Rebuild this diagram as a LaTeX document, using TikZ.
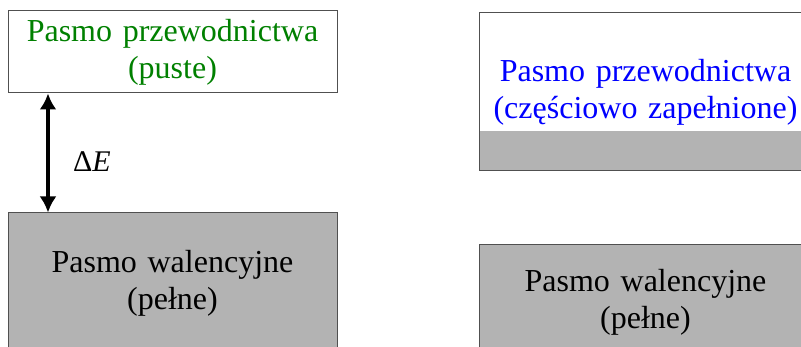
\documentclass[tikz,border=0pt]{standalone}
\usepackage{fontspec}
\setmainfont{Liberation Serif}
\usetikzlibrary{positioning, calc, arrows.meta, backgrounds}
\definecolor{bandgreen}{RGB}{0,128,0}
\definecolor{bandgray}{RGB}{179,179,179}
\definecolor{bandline}{RGB}{80,80,80}

\begin{document}
\begin{tikzpicture}[>={Latex[length=16pt, width=17pt]}, x=1pt, y=1pt,
  band/.style = {draw=bandline, line width=1pt, inner sep=0pt, text width=320pt,
    align=center, font=\fontsize{32}{37}\selectfont},
  fullband/.style = {band, fill=bandgray}]
  \useasboundingbox (0,0) rectangle (801,347);
  \clip (0,0) rectangle (801,347);

  % left: insulator
  \node[band, minimum width=329, minimum height=82, text=bandgreen] (cond) at (172.5,295) {Pasmo przewodnictwa\\(puste)};
  \node[fullband, minimum width=329, minimum height=140] (val) at (172.5,64) {Pasmo walencyjne\\(pełne)};
  \coordinate (gapx) at (48,0);
  \draw[<->, line width=3.5pt] (cond.south -| gapx) -- (val.north -| gapx);
  \node[font=\fontsize{30}{36}\selectfont] (dE) at (92,185) {Δ\textit{E}};

  % right: metal
  \node[band, minimum width=333, minimum height=158, text=blue] (partial) at (645.5,255) {Pasmo przewodnictwa\\(częściowo zapełnione)};
  \begin{scope}[on background layer]
    \fill[bandgray] (partial.south west) rectangle ($(partial.south east)+(0,40)$);
  \end{scope}
  \node[fullband, minimum width=333, minimum height=115] (valfull) at (645.5,44.5) {Pasmo walencyjne\\(pełne)};
\end{tikzpicture}
\end{document}
